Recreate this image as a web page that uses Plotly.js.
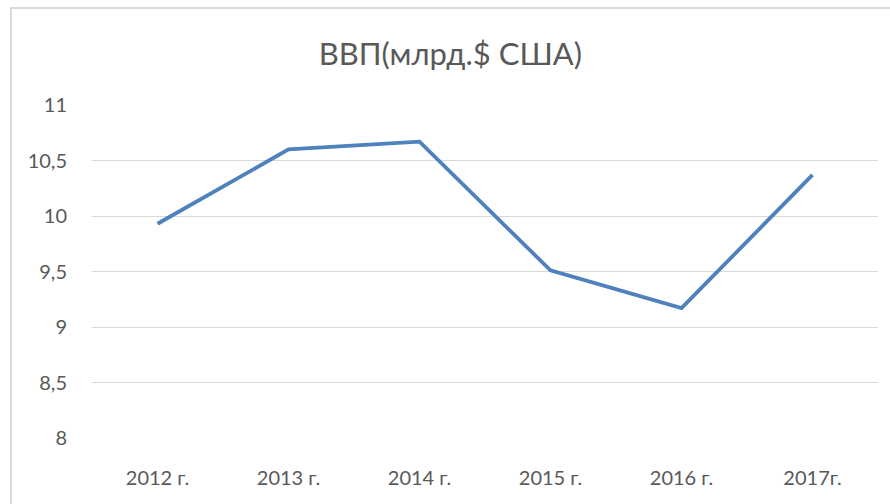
<!DOCTYPE html>
<html>
<head>
<meta charset="utf-8">
<script src="https://cdn.plot.ly/plotly-3.0.1.min.js"></script>
<style>
  html, body { margin: 0; padding: 0; background: #fff; }
  #wrap { position: relative; width: 890px; height: 504px; overflow: hidden; }
  #chart { width: 890px; height: 504px; }
  #frame { position: absolute; left: 10px; top: 7px; width: 900px; height: 520px;
           border: 2px solid #d9d9d9; pointer-events: none; box-sizing: border-box; }
</style>
</head>
<body>
<div id="wrap">
  <div id="chart"></div>
  <div id="frame"></div>
</div>
<script>
const categories = ["2012 г.", "2013 г.", "2014 г.", "2015 г.", "2016 г.", "2017г."];
const gdpValues = [9.93, 10.6, 10.67, 9.51, 9.17, 10.37];

const trace = {
  type: "scatter",
  mode: "lines",
  x: categories,
  y: gdpValues,
  line: { color: "#4F81BD", width: 3.8 },
  hoverinfo: "x+y"
};

const layout = {
  width: 890,
  height: 504,
  margin: { l: 92, r: 12, t: 105, b: 66 },
  paper_bgcolor: "#ffffff",
  plot_bgcolor: "#ffffff",
  separators: ", ",
  showlegend: false,
  font: { family: "Lato, 'Open Sans', sans-serif", color: "#595959", size: 20 },
  title: {
    text: "ВВП(млрд.$ США)",
    x: 0.506, xanchor: "center",
    y: 0.893, yanchor: "middle",
    font: { size: 31, color: "#595959", family: "Lato, 'Open Sans', sans-serif" }
  },
  xaxis: {
    type: "category",
    showgrid: false,
    showline: false,
    zeroline: false,
    ticks: "",
    ticklabelstandoff: 26,
    tickfont: { size: 20, color: "#595959" },
    range: [-0.5, 5.5]
  },
  yaxis: {
    range: [8, 11],
    tick0: 8,
    dtick: 0.5,
    showgrid: true,
    gridcolor: "#d9d9d9",
    gridwidth: 1,
    zeroline: false,
    showline: false,
    ticks: "",
    ticklabelstandoff: 24,
    tickfont: { size: 20, color: "#595959" }
  }
};

Plotly.newPlot("chart", [trace], layout, { displayModeBar: false, staticPlot: true });
</script>
</body>
</html>
